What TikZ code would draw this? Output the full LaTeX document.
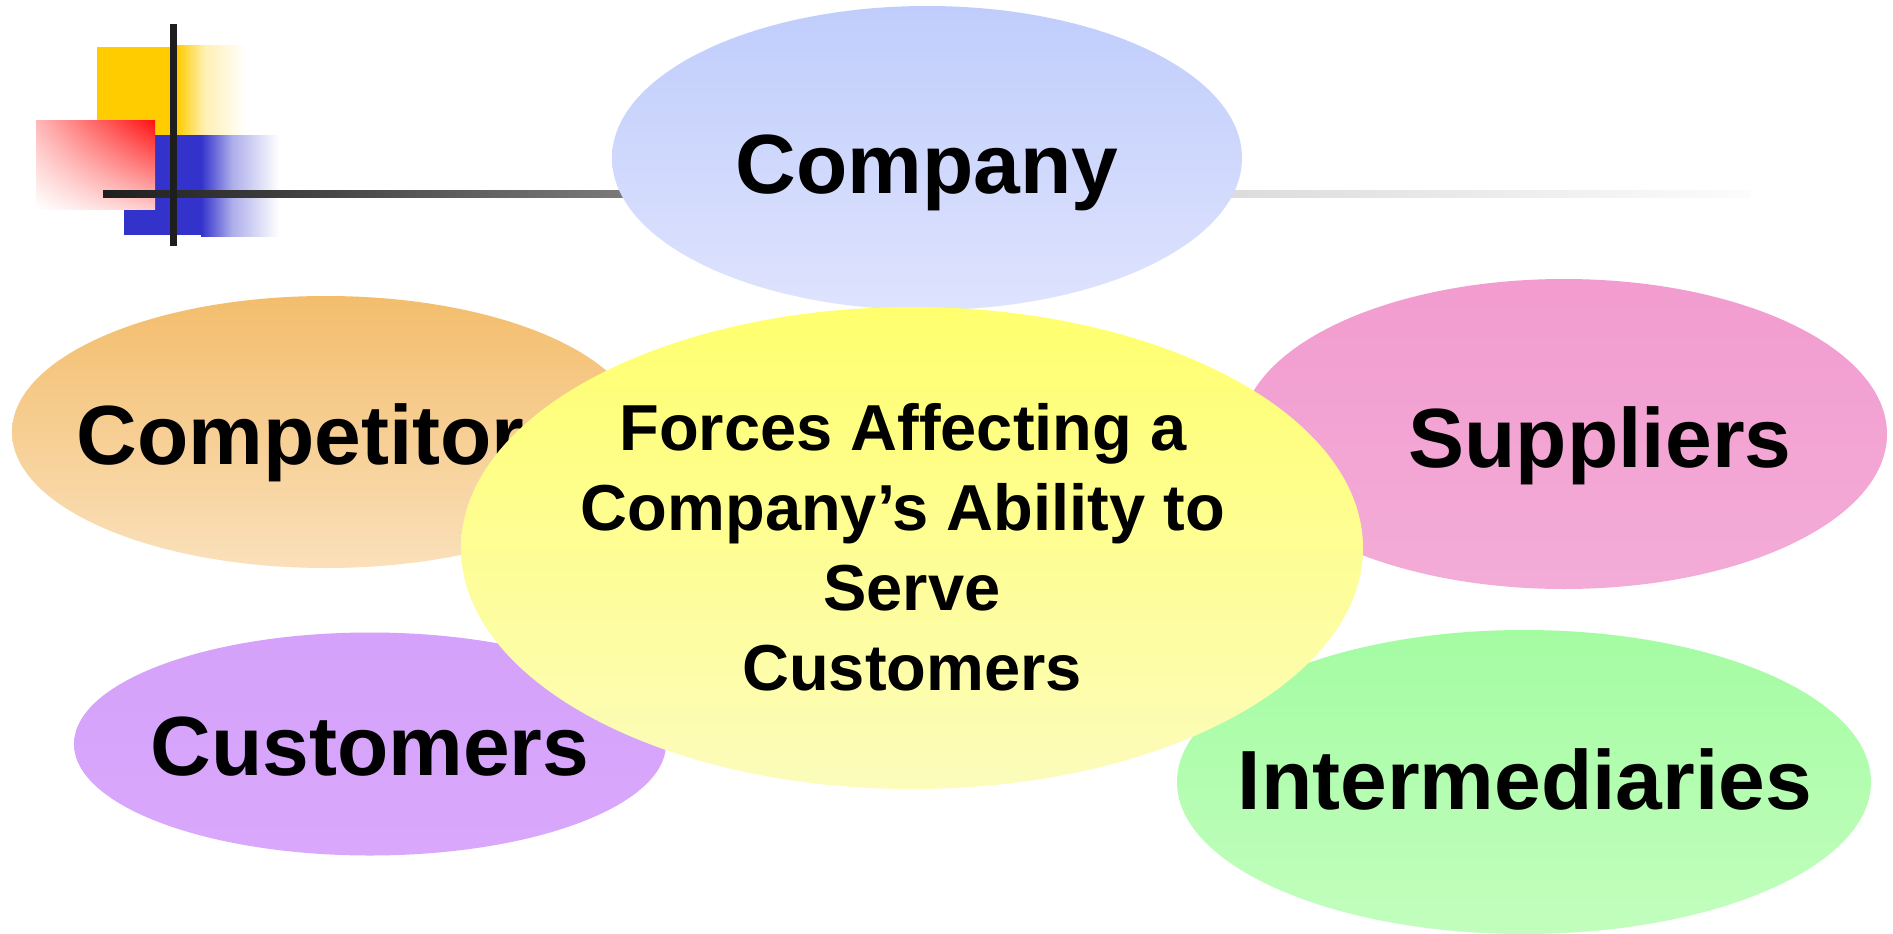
\documentclass[tikz,border=0pt]{standalone}
\usepackage{fontspec}
\setmainfont{Liberation Sans}
\usetikzlibrary{shapes.geometric,shadings}
\definecolor{decoyellow}{RGB}{255,204,0}
\definecolor{decoblue}{RGB}{51,51,204}
\definecolor{decored}{RGB}{255,16,16}
\definecolor{barblack}{RGB}{30,30,30}
\definecolor{lg1}{RGB}{30,30,30}
\definecolor{lg2}{RGB}{112,112,112}
\definecolor{lg3}{RGB}{218,218,218}
\definecolor{lg4}{RGB}{252,252,252}
\definecolor{compTop}{RGB}{192,205,252}
\definecolor{compBot}{RGB}{222,227,253}
\definecolor{cptTop}{RGB}{243,189,108}
\definecolor{cptBot}{RGB}{250,224,186}
\definecolor{supTop}{RGB}{242,156,207}
\definecolor{supBot}{RGB}{243,172,215}
\definecolor{cusTop}{RGB}{213,161,250}
\definecolor{cusBot}{RGB}{217,168,252}
\definecolor{intTop}{RGB}{164,252,162}
\definecolor{intBot}{RGB}{194,254,190}
\definecolor{cenTop}{RGB}{255,255,110}
\definecolor{cenBot}{RGB}{252,252,188}
\pgfdeclarehorizontalshading{linefade}{100bp}{color(0bp)=(lg1); color(25bp)=(lg1); color(39bp)=(lg2); color(58.5bp)=(lg3); color(75bp)=(lg4); color(100bp)=(lg4)}
\pgfdeclarehorizontalshading{yellowfade}{100bp}{color(0bp)=(decoyellow); color(25bp)=(decoyellow); color(45bp)=(decoyellow!30!white); color(75bp)=(white); color(100bp)=(white)}
\pgfdeclarehorizontalshading{bluefade}{100bp}{color(0bp)=(decoblue); color(25bp)=(decoblue); color(45bp)=(decoblue!40!white); color(75bp)=(white); color(100bp)=(white)}
\tikzset{
  ell/.style={ellipse, inner sep=0pt, draw=none},
  biglabel/.style={anchor=base, inner sep=0pt, font=\fontsize{84}{100}\selectfont\bfseries},
  midlabel/.style={anchor=north, inner sep=0pt, align=center, font=\fontsize{65}{80}\selectfont\bfseries}
}
\begin{document}
\begin{tikzpicture}[x=1pt, y=-1pt]
\useasboundingbox (0,0) rectangle (1893,934);
\fill[white] (0,0) rectangle (1893,934);
% decoration
\fill[decoyellow] (97,47) rectangle (177,135);
\shade[shading=yellowfade] (177,46) rectangle (246,135);
\fill[decoblue] (124,135) rectangle (201,235);
\shade[shading=bluefade] (201,135) rectangle (279,236);
\shade[upper left=decored!30!white, upper right=decored, lower left=white, lower right=decored!22!white] (36,120) rectangle (155,209);
\shade[shading=linefade] (103,190) rectangle (1750,197);
\fill[barblack] (170,24) rectangle (177,246);
% ellipses
\node[ell, minimum width=630pt, minimum height=304pt, top color=compTop, bottom color=compBot] (company) at (927,158) {};
\node[ell, minimum width=628pt, minimum height=272pt, top color=cptTop, bottom color=cptBot] (competitors) at (326,432) {};
\node[ell, minimum width=646pt, minimum height=310pt, top color=supTop, bottom color=supBot] (suppliers) at (1564,434) {};
\node[ell, minimum width=592pt, minimum height=223pt, top color=cusTop, bottom color=cusBot] (customers) at (370,744) {};
\node[ell, minimum width=694pt, minimum height=304pt, top color=intTop, bottom color=intBot] (intermediaries) at (1524,782) {};
% labels
\node[biglabel] (tcompany) at (927,193) {Company};
\node[biglabel] (tcompetitors) at (324,464) {Competitors};
\node[biglabel] (tsuppliers) at (1600,467) {Suppliers};
\node[biglabel] (tcustomers) at (370,775) {Customers};
\node[biglabel] (tintermediaries) at (1525,809) {Intermediaries};
% central
\node[ell, minimum width=902pt, minimum height=482pt, top color=cenTop, bottom color=cenBot] (forces) at (912,548) {};
\node[midlabel] (tforces) at (912,403) {Forces Affecting a\kern18pt\\Company’s Ability to\kern18pt\\Serve\\Customers};
\end{tikzpicture}
\end{document}
